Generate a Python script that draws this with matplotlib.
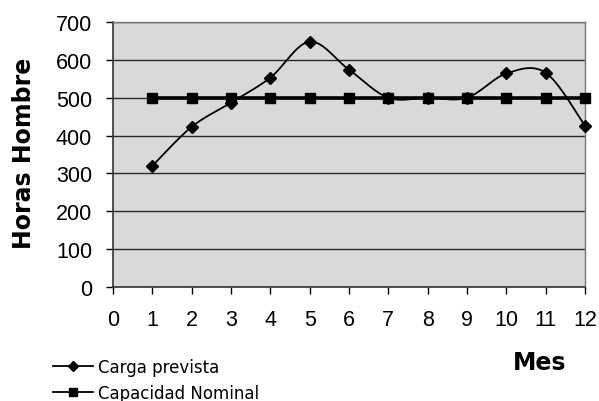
import numpy as np
import matplotlib
matplotlib.use("Agg")
import matplotlib.pyplot as plt
from matplotlib.lines import Line2D

plt.rcParams['font.family'] = ['Liberation Sans', 'DejaVu Sans']

# monthly data
meses = [1, 2, 3, 4, 5, 6, 7, 8, 9, 10, 11, 12]
carga_prevista = [320, 423, 487, 553, 648, 574, 500, 500, 500, 564, 566, 426]
capacidad_nominal = [500, 500, 500, 500, 500, 500, 500, 500, 500, 500, 500, 500]


def smooth(x, y, n=30):
    # catmull-rom style bezier smoothing through every point
    x = np.asarray(x, float)
    y = np.asarray(y, float)
    px = np.concatenate([[x[0]], x, [x[-1]]])
    py = np.concatenate([[y[0]], y, [y[-1]]])
    xs, ys = [], []
    t = np.linspace(0, 1, n)
    for i in range(1, len(px) - 2):
        p0 = np.array([px[i], py[i]])
        p3 = np.array([px[i + 1], py[i + 1]])
        p1 = p0 + (np.array([px[i + 1], py[i + 1]]) - np.array([px[i - 1], py[i - 1]])) / 6
        p2 = p3 - (np.array([px[i + 2], py[i + 2]]) - np.array([px[i], py[i]])) / 6
        b = ((1 - t) ** 3)[:, None] * p0 + (3 * (1 - t) ** 2 * t)[:, None] * p1 \
            + (3 * (1 - t) * t ** 2)[:, None] * p2 + (t ** 3)[:, None] * p3
        xs.extend(b[:, 0])
        ys.extend(b[:, 1])
    return np.array(xs), np.array(ys)


fig = plt.figure(figsize=(5.99, 4.02), dpi=100)
ax = fig.add_axes([113 / 599, 1 - 288 / 402, 472 / 599, 265 / 402])
ax.set_facecolor('#d9d9d9')

ax.set_xlim(0, 12)
ax.set_ylim(0, 700)
ax.set_yticks(range(0, 701, 100))
ax.set_xticks(range(0, 13))
ax.grid(axis='y', color='#2a2a2a', linewidth=1.0)
ax.set_axisbelow(True)

for side in ['top', 'right']:
    ax.spines[side].set_color('#777777')
    ax.spines[side].set_linewidth(1.0)
for side in ['left', 'bottom']:
    ax.spines[side].set_color('#333333')
    ax.spines[side].set_linewidth(1.2)

ax.tick_params(axis='y', direction='out', length=5, width=1, pad=10, labelsize=15.5)
ax.tick_params(axis='x', direction='out', length=5, width=1, pad=11, labelsize=15.5)

sx, sy = smooth(meses, carga_prevista)
ax.plot(sx, sy, color='black', linewidth=1.3, zorder=3)
ax.plot(meses, carga_prevista, linestyle='none', marker='D', markersize=6,
        color='black', zorder=4, clip_on=False)
ax.plot(meses, capacidad_nominal, color='black', linewidth=2.6, marker='s',
        markersize=7.5, zorder=5, clip_on=False)

fig.text(24 / 599, 1 - 153 / 402, 'Horas Hombre', rotation=90, ha='center',
         va='center', fontsize=17, fontweight='bold', family='DejaVu Sans')
fig.text(540 / 599, 1 - 363 / 402, 'Mes', ha='center', va='center',
         fontsize=17, fontweight='bold', family='DejaVu Sans')

handles = [
    Line2D([], [], color='black', linewidth=1.3, marker='D', markersize=5),
    Line2D([], [], color='black', linewidth=1.3, marker='s', markersize=6),
]
fig.legend(handles, ['Carga prevista', 'Capacidad Nominal'], loc='center left',
           bbox_to_anchor=(45 / 599, 1 - 381 / 402), frameon=False,
           prop={'family': 'DejaVu Sans', 'size': 12},
           handlelength=2.4, handletextpad=0.3, labelspacing=0.5, borderpad=0)

fig.savefig('out.png', dpi=100)
